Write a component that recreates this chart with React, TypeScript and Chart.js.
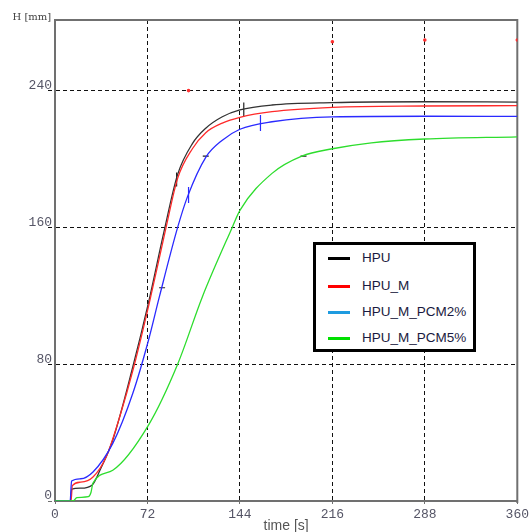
import React, { useEffect, useRef } from "react";
import { Chart, registerables } from "chart.js";
Chart.register(...registerables);

const xTicks = [0, 72, 144, 216, 288, 360];
const yTicks = [0, 80, 160, 240];
const seriesNames = ["HPU", "HPU_M", "HPU_M_PCM2%", "HPU_M_PCM5%"];
const lineColors = ["#333333", "#ff2a2a", "#2a2aff", "#2ddd2d"];
const legendColors = ["#000000", "#ff0000", "#1e9be0", "#00e000"];

const tHPU = [0, 12, 13, 20, 29, 35, 45, 60.6, 72.8, 85, 95.5, 107, 117.4, 130.3, 144, 169, 216, 288, 360];
const hHPU = [0, 0, 7, 7.5, 9.4, 18, 35.7, 78.5, 116, 158, 191, 209, 218, 224.7, 228.7, 231.6, 233, 233.5, 233.3];

const tHPUM = [0, 12.5, 13.5, 20, 29.6, 40, 50.3, 61.4, 73.5, 86.5, 95.5, 107, 117.4, 130.3, 144, 169, 216, 288, 360];
const hHPUM = [0, 0, 9, 11, 14, 26, 49, 78.5, 116, 160, 188.7, 206, 215.4, 221, 224.4, 227.7, 230.2, 231, 231.2];

const tPCM2 = [0, 11.8, 12.9, 20, 29.6, 45, 60.6, 72.8, 81.3, 95.5, 103.2, 117.4, 130.3, 144, 169, 216, 288, 360];
const hPCM2 = [0, 0, 11.7, 13, 17, 33.7, 63, 94, 119.5, 160, 178, 201, 211, 217.4, 221.8, 224.7, 225, 224.9];

const tPCM5 = [0, 14, 17, 26, 28, 29.6, 45, 72.8, 95.5, 114.8, 138, 144, 169, 192.2, 216, 246.4, 288, 360];
const hPCM5 = [0, 0, 2, 2.5, 5, 10.5, 18, 44.4, 80, 119.5, 160, 170, 191.6, 201.7, 206, 209.5, 211.7, 213];

// small marker ticks seen on the curves
const tBlackMarks = [94.7, 147];
const hBlackMarks = [188, 229];
const tBlueMarks = [104, 160];
const hBlueMarks = [179, 221];
const tDashMarks = [83.4, 117.4, 193.5];
const hDashMarks = [124.7, 201.7, 201.7];
const tRedDots = [104, 216, 288, 360];
const hRedDots = [240, 268.6, 269.6, 269.6];

const toPts = (t: number[], h: number[]) => t.map((x, i) => ({ x, y: h[i] }));

const frameAndLabels = {
  id: "frameAndLabels",
  beforeDatasetsDraw(chart: any) {
    const { ctx, chartArea } = chart;
    ctx.save();
    ctx.strokeStyle = "#707070";
    ctx.lineWidth = 2;
    ctx.beginPath();
    ctx.moveTo(chartArea.left, chartArea.top);
    ctx.lineTo(chartArea.right, chartArea.top);
    ctx.lineTo(chartArea.right, chartArea.bottom + 2);
    ctx.stroke();
    ctx.fillStyle = "#444444";
    ctx.font = "10px 'DejaVu Serif', serif";
    ctx.textBaseline = "alphabetic";
    ctx.textAlign = "left";
    ctx.fillText("H [mm]", 12.5, 20);
    ctx.restore();
  },
};

export default function App() {
  const ref = useRef<HTMLCanvasElement | null>(null);
  useEffect(() => {
    if (!ref.current) return;
    const mk = (label: string, t: number[], h: number[], color: string) => ({
      label,
      data: toPts(t, h),
      borderColor: color,
      backgroundColor: color,
      borderWidth: 1.3,
      pointRadius: 0,
      cubicInterpolationMode: "monotone" as const,
      fill: false,
    });
    const marks = (t: number[], h: number[], color: string, rot: number, r: number, style: any) => ({
      label: "",
      data: toPts(t, h),
      showLine: false,
      borderColor: color,
      backgroundColor: color,
      pointStyle: style,
      pointRotation: rot,
      pointRadius: r,
      pointBorderWidth: 1.2,
    });
    const chart = new Chart(ref.current, {
      type: "line",
      data: {
        datasets: [
          mk(seriesNames[3], tPCM5, hPCM5, lineColors[3]),
          mk(seriesNames[2], tPCM2, hPCM2, lineColors[2]),
          mk(seriesNames[1], tHPUM, hHPUM, lineColors[1]),
          mk(seriesNames[0], tHPU, hHPU, lineColors[0]),
          marks(tBlackMarks, hBlackMarks, "#222222", 90, 7, "line"),
          marks(tBlueMarks, hBlueMarks, "#2a2aff", 90, 8, "line"),
          marks(tDashMarks, hDashMarks, "#222222", 0, 3, "line"),
          marks(tRedDots, hRedDots, "#ff3030", 0, 1.2, "circle"),
        ] as any,
      },
      options: {
        animation: false,
        responsive: false,
        maintainAspectRatio: false,
        layout: { padding: { left: 0, right: 12, top: 20, bottom: 0 }, autoPadding: false } as any,
        plugins: { legend: { display: false }, tooltip: { enabled: false } },
        scales: {
          x: {
            type: "linear",
            min: 0,
            max: 360,
            afterBuildTicks: (s: any) => {
              s.ticks = xTicks.map((v) => ({ value: v }));
            },
            afterFit: (s: any) => {
              s.height = 31;
            },
            grid: {
              color: (c: any) => (c.tick && (c.tick.value === 0 || c.tick.value === 360) ? "rgba(0,0,0,0)" : "#111111"),
              lineWidth: 1,
              drawTicks: true,
              tickLength: 3,
              tickColor: "#707070",
            },
            border: { display: true, color: "#707070", width: 2, dash: [4, 3] },
            ticks: {
              padding: 3,
              maxRotation: 0,
              autoSkip: false,
              color: "#555566",
              font: { family: "'Liberation Mono', 'Courier New', monospace", size: 13 },
            },
            title: {
              display: true,
              text: "time [s]",
              color: "#555555",
              font: { family: "'Liberation Sans', Arial, sans-serif", size: 14, lineHeight: 1 },
              padding: { top: 0, bottom: -1 },
            },
          },
          y: {
            type: "linear",
            min: 0,
            max: 281.3,
            afterBuildTicks: (s: any) => {
              s.ticks = yTicks.map((v) => ({ value: v }));
            },
            afterFit: (s: any) => {
              s.width = 55;
            },
            grid: {
              color: (c: any) => (c.tick && c.tick.value === 0 ? "rgba(0,0,0,0)" : "#111111"),
              lineWidth: 1,
              drawTicks: true,
              tickLength: 7,
              tickColor: (c: any) => (c.tick && c.tick.value === 0 ? "#707070" : "#111111"),
              tickBorderDash: [4, 3],
            },
            border: { display: true, color: "#707070", width: 2, dash: [4, 3] },
            ticks: {
              padding: -4,
              labelOffset: -5,
              autoSkip: false,
              color: "#555566",
              font: { family: "'Liberation Mono', 'Courier New', monospace", size: 13 },
            },
          },
        },
      },
      plugins: [frameAndLabels],
    });
    return () => chart.destroy();
  }, []);

  const rowTops = [13, 41, 67, 93];
  return (
    <div style={{ position: "absolute", left: 0, top: 0, width: 532, height: 532, background: "#fff" }}>
      <canvas ref={ref} width={532} height={532} style={{ position: "absolute", left: 0, top: 0 }} />
      <div
        style={{
          position: "absolute",
          left: 313,
          top: 242,
          width: 163,
          height: 110,
          boxSizing: "border-box",
          border: "3px solid #000",
          background: "#fff",
        }}
      >
        {seriesNames.map((name, i) => (
          <div key={name} style={{ position: "absolute", left: 0, top: rowTops[i] - 8, height: 16, width: 157 }}>
            <div
              style={{
                position: "absolute",
                left: 12,
                top: 6.5,
                width: 22,
                height: 3,
                background: legendColors[i],
              }}
            />
            <span
              style={{
                position: "absolute",
                left: 46,
                top: 0,
                lineHeight: "16px",
                fontSize: 13.5,
                fontFamily: "'Liberation Sans', Arial, sans-serif",
                color: "#1a1a40",
                whiteSpace: "nowrap",
              }}
            >
              {name}
            </span>
          </div>
        ))}
      </div>
    </div>
  );
}
